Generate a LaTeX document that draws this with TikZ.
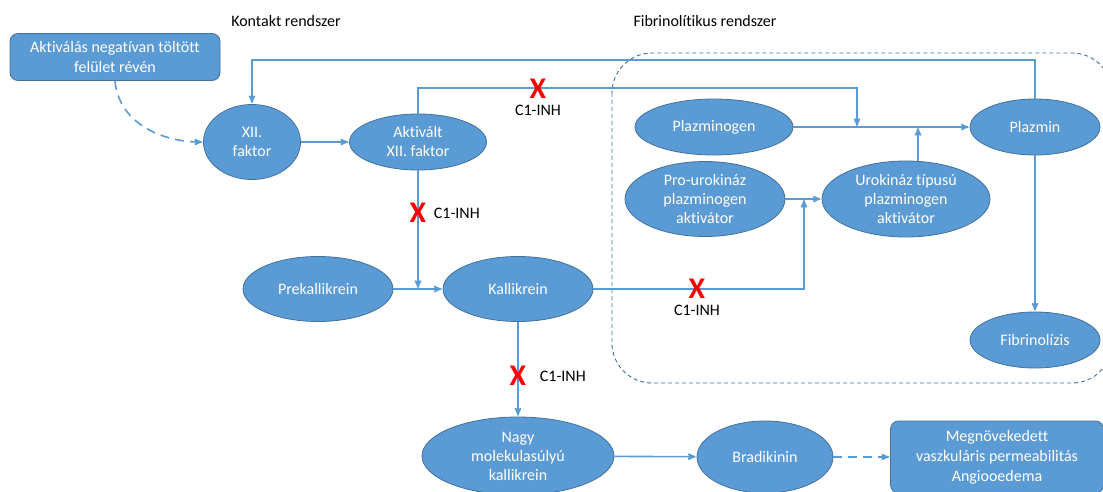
\documentclass[tikz,border=0pt]{standalone}
\usepackage{fontspec}
\setmainfont{Carlito}[Ligatures=NoCommon]
\usepackage{tikz}
\usetikzlibrary{arrows,shapes.geometric,positioning}
\definecolor{fillblue}{HTML}{5B9BD5}
\definecolor{edgeblue}{HTML}{41719C}

\begin{document}
\begin{tikzpicture}[x=1pt,y=-1pt,->,>=stealth',shorten >=1pt,
  line width=1.6pt,draw=fillblue,
  main node/.style={ellipse,fill=fillblue,draw=edgeblue,line width=0.8pt,text=white,
    align=center,inner sep=0pt,font=\fontsize{16}{19}\selectfont},
  box node/.style={rectangle,rounded corners=8pt,fill=fillblue,draw=edgeblue,line width=0.8pt,
    text=white,align=center,inner sep=0pt,font=\fontsize{16}{20}\selectfont},
  inh/.style={text=red,inner sep=0pt,font=\fontsize{30}{30}\selectfont\bfseries},
  inh text/.style={text=black,inner sep=0pt,font=\fontsize{16}{19}\selectfont},
  title text/.style={text=black,font=\fontsize{16}{19}\selectfont}]

  \useasboundingbox (0,0) rectangle (1103,492);

  % fibrinolitikus keret
  \draw[-,dash pattern=on 4pt off 3pt,edgeblue,line width=0.9pt,rounded corners=40pt] (612,53) rectangle (1112,383);

  \node[title text] (kontakt) at (286,21) {Kontakt rendszer};
  \node[title text] (fibrinrsz) at (705,21) {Fibrinolítikus rendszer};

  \node[box node,minimum width=210,minimum height=47] (surface) at (115,57) {Aktiválás negatívan töltött\\felület révén};
  \node[main node,minimum width=97,minimum height=75] (xii) at (252,142) {XII.\\faktor};
  \node[main node,minimum width=137,minimum height=56] (axii) at (418,142) {Aktivált\\XII. faktor};
  \node[main node,minimum width=150,minimum height=65] (prek) at (318,289) {Prekallikrein};
  \node[main node,minimum width=150,minimum height=65] (kal) at (518,289) {Kallikrein};
  \node[main node,minimum width=192,minimum height=78] (nagy) at (518,456) {Nagy\\molekulasúlyú\\kallikrein};
  \node[main node,minimum width=136,minimum height=72] (brad) at (765,457) {Bradikinin};
  \node[box node,minimum width=213,minimum height=72] (perm) at (997,457) {Megnövekedett\\vaszkuláris permeabilitás\\Angiooedema};
  \node[main node,minimum width=158,minimum height=56] (plg) at (714,127) {Plazminogen};
  \node[main node,minimum width=130,minimum height=56] (plm) at (1035,127) {Plazmin};
  \node[main node,minimum width=160,minimum height=75] (pro) at (705,199) {Pro-urokináz\\plazminogen\\aktivátor};
  \node[main node,minimum width=168,minimum height=76] (uro) at (906,199) {Urokináz típusú\\plazminogen\\aktivátor};
  \node[main node,minimum width=130,minimum height=56] (fib) at (1035,340) {Fibrinolízis};

  \coordinate (top) at (0,60);
  \coordinate (mid) at (0,88);
  \coordinate (join1) at (857,127);
  \coordinate (join2) at (804,199);

  % kontakt rendszer
  \draw[dash pattern=on 9pt off 6pt] (surface.south) to[out=-85,in=180] (xii.west);
  \draw (xii) -- (axii);
  \draw (axii.south) -- (axii.south |- prek);
  \draw (prek) -- (kal);
  \draw (kal) -- (nagy);
  \draw (nagy) -- (brad);
  \draw[dash pattern=on 9pt off 6pt] (brad) -- (perm);

  % fibrinolitikus rendszer
  \draw (plm.north) -- (plm.north |- top) -- (xii.north |- top) -- (xii.north);
  \draw (axii.north) -- (axii.north |- mid) -- (join1 |- mid) -- (join1);
  \draw (plg) -- (plm);
  \draw ([xshift=12pt]uro.north) -- ([xshift=12pt]uro.north |- plg);
  \draw (pro) -- (uro);
  \draw (kal.east) -- (kal.east -| join2) -- (join2);
  \draw (plm) -- (fib);

  % C1-INH gatlas
  \node[inh] (x1) at (538,89) {X};
  \node[inh text,below=5pt of x1] (c1) {C1-INH};
  \node[inh] (x2) at (418,213) {X};
  \node[inh text,right=6pt of x2] (c2) {C1-INH};
  \node[inh] (x3) at (697,289) {X};
  \node[inh text,below=5pt of x3] (c3) {C1-INH};
  \node[inh] (x4) at (518,376) {X};
  \node[inh text,right=12pt of x4] (c4) {C1-INH};
\end{tikzpicture}
\end{document}
